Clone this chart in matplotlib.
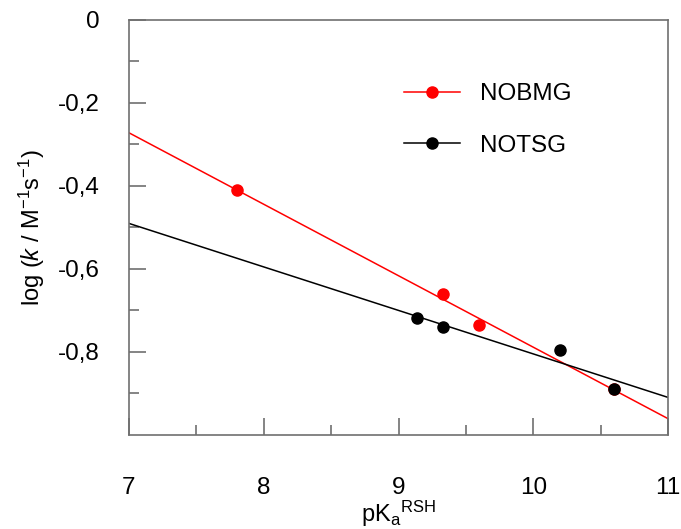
import numpy as np
import matplotlib
matplotlib.use('Agg')
import matplotlib.pyplot as plt
from matplotlib.ticker import FuncFormatter

plt.rcParams['font.family'] = ['Liberation Sans', 'DejaVu Sans']
plt.rcParams['mathtext.fontset'] = 'custom'
plt.rcParams['mathtext.rm'] = 'Liberation Sans'
plt.rcParams['mathtext.it'] = 'Liberation Sans:italic'

# data
pka_nobmg = [7.80, 9.33, 9.60, 10.60]
logk_nobmg = [-0.410, -0.660, -0.735, -0.889]
pka_notsg = [9.14, 9.33, 10.20, 10.60]
logk_notsg = [-0.718, -0.740, -0.795, -0.889]
labels = ['NOBMG', 'NOTSG']
colors = ['#ff0000', '#000000']

xlim = (7, 11)
ylim = (-1.0, 0.0)

fig = plt.figure(figsize=(6.81, 5.29), dpi=100)
ax = fig.add_axes([0.1894, 0.1777, 0.7916, 0.7845])

xs = np.array(xlim)
for px, py, c, lab in zip([pka_nobmg, pka_notsg], [logk_nobmg, logk_notsg], colors, labels):
    m, b = np.polyfit(px, py, 1)
    ax.plot(xs, m * xs + b, color=c, lw=1.1, zorder=2)
    ax.plot(px, py, 'o', color=c, ms=8, zorder=3)
    # legend proxy: line with dot in middle
    ax.plot([], [], '-o', color=c, lw=1.1, ms=8, label=lab)

ax.set_xlim(*xlim)
ax.set_ylim(*ylim)

ax.set_xticks([7, 8, 9, 10, 11])
ax.set_xticks([7.5, 8.5, 9.5, 10.5], minor=True)
ax.set_yticks([0, -0.2, -0.4, -0.6, -0.8])
ax.set_yticks([-0.1, -0.3, -0.5, -0.7, -0.9], minor=True)

fmt = FuncFormatter(lambda v, p: ('%g' % round(v, 2)).replace('.', ','))
ax.xaxis.set_major_formatter(fmt)
ax.yaxis.set_major_formatter(fmt)

ax.tick_params(which='both', direction='in', color='#707070', width=1.2,
               labelsize=17.5, top=False, right=False)
ax.tick_params(which='major', length=12)
ax.tick_params(which='minor', length=7.2)
ax.tick_params(axis='x', which='major', pad=30)
ax.tick_params(axis='y', which='major', pad=21)

for s in ax.spines.values():
    s.set_color('#707070')
    s.set_linewidth(1.2)

ax.set_xlabel(r'pK$_{\mathregular{a}}{}^{\mathregular{RSH}}$', fontsize=17, labelpad=0)
ax.set_ylabel(r'log ($\mathit{k}$ / M$^{-1}$s$^{-1}$)', fontsize=17, labelpad=8)

leg = ax.legend(loc='upper left', bbox_to_anchor=(0.47, 0.90), frameon=False,
                fontsize=17.5, handlelength=2.3, handletextpad=0.8,
                labelspacing=1.2, numpoints=1)

fig.savefig('out.png', dpi=100)
